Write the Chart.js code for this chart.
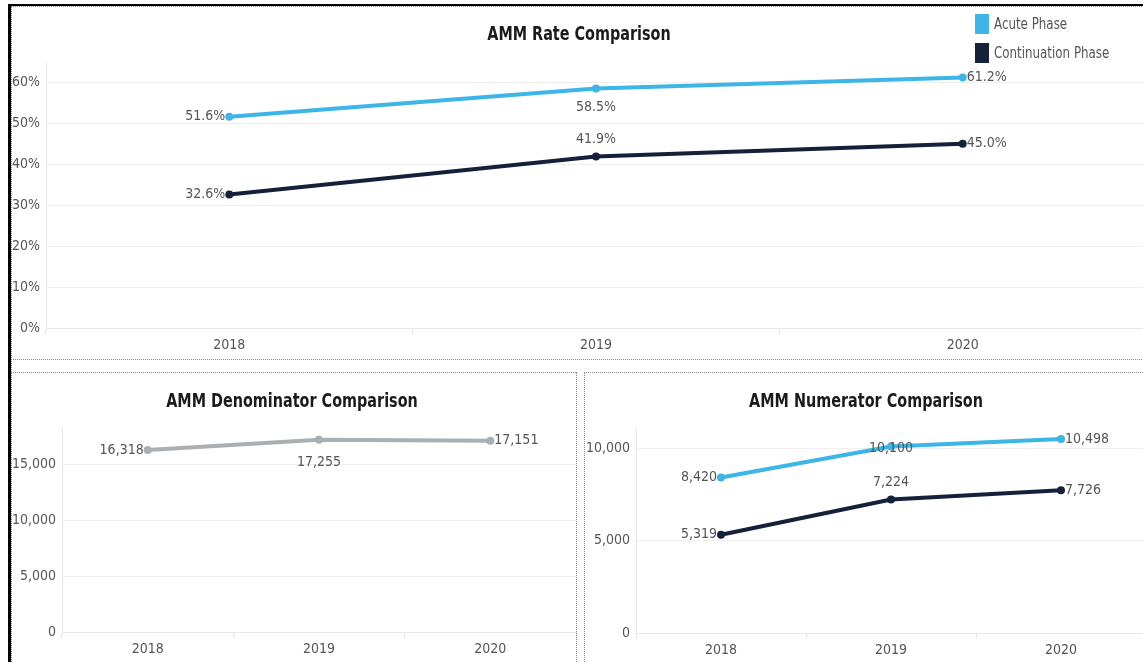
<!DOCTYPE html>
<html>
<head>
<meta charset="utf-8">
<title>AMM Comparison</title>
<script src="https://cdn.jsdelivr.net/npm/chart.js@4.4.0/dist/chart.umd.min.js"></script>
<style>
body { margin: 0; width: 1143px; height: 662px; overflow: hidden; background: #fff;
       font-family: 'Liberation Sans Narrow', 'DejaVu Sans Condensed', 'Arial Narrow', sans-serif; }
.box { position: absolute; }
.title { position: absolute; transform: translate(-50%, -50%) scaleX(0.8); font-weight: bold; font-size: 20px;
         color: #1b1b1b; white-space: nowrap; }
.black { position: absolute; background: #000; }
.dotH { position: absolute; height: 0; border-top: 1px dotted #8a8a8a; }
.dotV { position: absolute; width: 0; border-left: 1px dotted #8a8a8a; }
#legend { position: absolute; left: 975px; top: 14px; }
#legend div { height: 29px; font-size: 15px; color: #555; white-space: nowrap; }
#legend span { display: inline-block; width: 14px; height: 20px; margin-right: 5px; vertical-align: -5px; }
#legend em { font-style: normal; display: inline-block; transform: scaleX(0.88); transform-origin: left center; }
</style>
</head>
<body>

<div class="box" style="left:0; top:0; width:1150px; height:358px"><canvas id="rateChart"></canvas></div>
<div class="box" style="left:0; top:372px; width:580px; height:290px"><canvas id="denomChart"></canvas></div>
<div class="box" style="left:584px; top:372px; width:566px; height:290px"><canvas id="numChart"></canvas></div>

<div class="black" style="left:8px; top:4px; width:3px; height:660px"></div>
<div class="black" style="left:8px; top:4px; width:1140px; height:2px"></div>
<div class="dotH" style="left:11px; top:6px; width:1135px"></div>
<div class="dotV" style="left:11px; top:6px; height:660px"></div>
<div class="dotH" style="left:11px; top:359px; width:1135px"></div>
<div class="dotH" style="left:11px; top:372px; width:565px"></div>
<div class="dotH" style="left:584px; top:372px; width:565px"></div>
<div class="dotV" style="left:576px; top:372px; height:300px"></div>
<div class="dotV" style="left:584px; top:372px; height:300px"></div>

<div class="title" style="left:579px; top:33px">AMM Rate Comparison</div>
<div class="title" style="left:292px; top:400px">AMM Denominator Comparison</div>
<div class="title" style="left:866px; top:400px">AMM Numerator Comparison</div>
<div id="legend"></div>

<script>
var years = ["2018", "2019", "2020"];
var seriesNames = ["Acute Phase", "Continuation Phase"];
var seriesColors = ["#3db5e6", "#15213b"];

var rateAcute = [51.6, 58.5, 61.2];
var rateCont = [32.6, 41.9, 45.0];
var rateTicks = [0, 10, 20, 30, 40, 50, 60];

var denomTotal = [16318, 17255, 17151];
var denomTicks = [0, 5000, 10000, 15000];

var numAcute = [8420, 10100, 10498];
var numCont = [5319, 7224, 7726];
var numTicks = [0, 5000, 10000];

var fontFam = "'Liberation Sans Narrow', 'DejaVu Sans Condensed', 'Arial Narrow', sans-serif";
Chart.defaults.font.family = fontFam;
Chart.defaults.font.size = 14;
Chart.defaults.color = "#555";

// legend
var legend = document.getElementById("legend");
seriesNames.forEach(function(name, i) {
    var row = document.createElement("div");
    row.innerHTML = '<span style="background:' + seriesColors[i] + '"></span><em>' + name + '</em>';
    legend.appendChild(row);
});

// text next to each point, placed per dataset.labelPos
function labelPlugin(fmt, gapAbove, gapBelow) {
    return {
        id: "pointLabels",
        afterDatasetsDraw: function(chart) {
            var ctx = chart.ctx;
            ctx.save();
            ctx.font = "14px " + fontFam;
            ctx.fillStyle = "#555";
            chart.data.datasets.forEach(function(ds, di) {
                var meta = chart.getDatasetMeta(di);
                meta.data.forEach(function(pt, i) {
                    var txt = fmt(ds.data[i]);
                    var pos = ds.labelPos[i];
                    var x = pt.x, y = pt.y;
                    ctx.textBaseline = "middle";
                    if (pos === "left") { ctx.textAlign = "right"; x -= 4; }
                    else if (pos === "right") { ctx.textAlign = "left"; x += 4; }
                    else if (pos === "above") { ctx.textAlign = "center"; y -= gapAbove; }
                    else if (pos === "below") { ctx.textAlign = "center"; y += gapBelow; }
                    else { ctx.textAlign = "center"; y += 2; }
                    ctx.fillText(txt, x, y);
                });
            });
            ctx.restore();
        }
    };
}

function lineSet(label, data, color, labelPos) {
    return {
        label: label,
        data: data,
        borderColor: color,
        backgroundColor: color,
        borderWidth: 4,
        pointRadius: 4,
        pointBorderWidth: 0,
        pointBackgroundColor: color,
        tension: 0,
        labelPos: labelPos
    };
}

function makeOptions(yMax, tickList, tickFmt, yWidth, xHeight, topPad) {
    return {
        responsive: true,
        maintainAspectRatio: false,
        animation: false,
        layout: { padding: { top: topPad, left: 0, right: 0, bottom: 0 } },
        plugins: { legend: { display: false }, tooltip: { enabled: false }, title: { display: false } },
        scales: {
            x: {
                offset: true,
                grid: { offset: true, drawOnChartArea: false, tickLength: 6, color: "#e6e6e6" },
                border: { color: "#e6e6e6" },
                ticks: { padding: 3, color: "#555" },
                afterFit: function(s) { s.height = xHeight; }
            },
            y: {
                min: 0,
                max: yMax,
                grid: { color: "#efefef", drawTicks: false },
                border: { color: "#e6e6e6" },
                ticks: { padding: 6, color: "#555", callback: tickFmt },
                afterBuildTicks: function(s) { s.ticks = tickList.map(function(v) { return { value: v }; }); },
                afterFit: function(s) { s.width = yWidth; }
            }
        }
    };
}

var pct = function(v) { return v.toFixed(1) + "%"; };
var num = function(v) { return Number(v).toLocaleString("en-US"); };

new Chart(document.getElementById("rateChart"), {
    type: "line",
    data: {
        labels: years,
        datasets: [
            lineSet(seriesNames[0], rateAcute, seriesColors[0], ["left", "below", "right"]),
            lineSet(seriesNames[1], rateCont, seriesColors[1], ["left", "above", "right"])
        ]
    },
    options: makeOptions(65, rateTicks, function(v) { return v + "%"; }, 46, 30, 62),
    plugins: [labelPlugin(pct, 17, 19)]
});

new Chart(document.getElementById("denomChart"), {
    type: "line",
    data: {
        labels: years,
        datasets: [
            lineSet("Denominator", denomTotal, "#a9afb2", ["left", "below", "right"])
        ]
    },
    options: makeOptions(18300, denomTicks, num, 62, 30, 56),
    plugins: [labelPlugin(num, 17, 23)]
});

new Chart(document.getElementById("numChart"), {
    type: "line",
    data: {
        labels: years,
        datasets: [
            lineSet(seriesNames[0], numAcute, seriesColors[0], ["left", "mid", "right"]),
            lineSet(seriesNames[1], numCont, seriesColors[1], ["left", "above", "right"])
        ]
    },
    options: makeOptions(11100, numTicks, num, 52, 29, 56),
    plugins: [labelPlugin(num, 17, 19)]
});
</script>
</body>
</html>
